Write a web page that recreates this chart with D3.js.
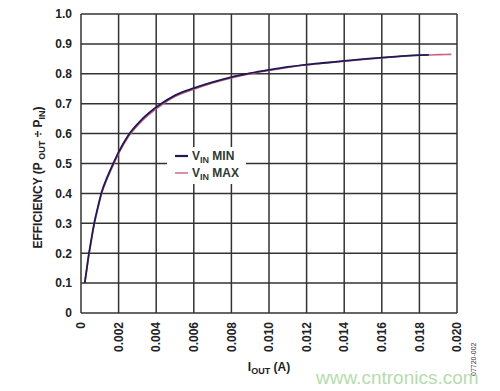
<!DOCTYPE html>
<html>
<head>
<meta charset="utf-8">
<script src="https://cdn.jsdelivr.net/npm/d3@7"></script>
<style>
  body { margin: 0; background: #fff; }
  text { font-family: "Liberation Sans", Arial, sans-serif; }
</style>
</head>
<body>
<div id="chart"></div>
<script>
// output current (A) and efficiency
var ioutMin = [0.0002, 0.0003, 0.0004, 0.0005, 0.0007, 0.0009, 0.0011, 0.0014, 0.0017, 0.002,
               0.0025, 0.0032, 0.0042, 0.005, 0.006, 0.007, 0.008, 0.009, 0.010, 0.011,
               0.012, 0.013, 0.014, 0.015, 0.016, 0.017, 0.0185];
var effMin  = [0.10, 0.145, 0.19, 0.228, 0.30, 0.355, 0.405, 0.455, 0.498, 0.538,
               0.593, 0.645, 0.697, 0.728, 0.752, 0.772, 0.789, 0.802, 0.813, 0.823,
               0.831, 0.837, 0.843, 0.849, 0.854, 0.859, 0.863];
var ioutMax = [0.0002, 0.0003, 0.0004, 0.0005, 0.0007, 0.0009, 0.0011, 0.0014, 0.0017, 0.002,
               0.0025, 0.0032, 0.0042, 0.005, 0.006, 0.007, 0.008, 0.009, 0.010, 0.011,
               0.012, 0.013, 0.014, 0.015, 0.016, 0.017, 0.018, 0.019, 0.0197];
var effMax  = [0.10, 0.143, 0.187, 0.224, 0.295, 0.35, 0.40, 0.45, 0.493, 0.533,
               0.588, 0.64, 0.692, 0.724, 0.748, 0.769, 0.786, 0.8, 0.811, 0.821,
               0.83, 0.836, 0.842, 0.848, 0.853, 0.858, 0.862, 0.864, 0.865];

var xTicks = [0, 0.002, 0.004, 0.006, 0.008, 0.010, 0.012, 0.014, 0.016, 0.018, 0.020];
var xTickLabels = ["0", "0.002", "0.004", "0.006", "0.008", "0.010", "0.012", "0.014", "0.016", "0.018", "0.020"];
var yTicks = [0, 0.1, 0.2, 0.3, 0.4, 0.5, 0.6, 0.7, 0.8, 0.9, 1.0];
var yTickLabels = ["0", "0.1", "0.2", "0.3", "0.4", "0.5", "0.6", "0.7", "0.8", "0.9", "1.0"];

var W = 500, H = 391,
    margin = {top: 14, right: 43, bottom: 78, left: 81},
    width = W - margin.left - margin.right,
    height = H - margin.top - margin.bottom;

var svg = d3.select("#chart").append("svg")
    .attr("width", W)
    .attr("height", H);

var g = svg.append("g")
    .attr("transform", "translate(" + margin.left + "," + margin.top + ")");

var x = d3.scaleLinear().domain([0, 0.020]).range([0, width]);
var y = d3.scaleLinear().domain([0, 1.0]).range([height, 0]);

var gridColor = "#333";

// grid
g.append("g")
    .selectAll("line")
    .data(xTicks)
  .enter().append("line")
    .attr("x1", function(d) { return x(d); })
    .attr("x2", function(d) { return x(d); })
    .attr("y1", 0)
    .attr("y2", height)
    .style("stroke", gridColor)
    .style("stroke-width", 1.5);

g.append("g")
    .selectAll("line")
    .data(yTicks)
  .enter().append("line")
    .attr("x1", 0)
    .attr("x2", width)
    .attr("y1", function(d) { return y(d); })
    .attr("y2", function(d) { return y(d); })
    .style("stroke", gridColor)
    .style("stroke-width", 1.5);

// y axis labels
var yAxis = d3.axisLeft(y)
    .tickValues(yTicks)
    .tickSize(0)
    .tickPadding(9)
    .tickFormat(function(d, i) { return yTickLabels[i]; });

var ya = g.append("g").call(yAxis);
ya.select(".domain").remove();
ya.selectAll("text")
    .style("font-size", "12px")
    .style("font-weight", "bold")
    .style("fill", "#222");

// x axis labels (rotated)
g.append("g")
    .selectAll("text")
    .data(xTicks)
  .enter().append("text")
    .attr("transform", function(d) { return "translate(" + x(d) + "," + (height + 9) + ") rotate(-90)"; })
    .attr("dy", "0.35em")
    .style("text-anchor", "end")
    .style("font-size", "12px")
    .style("font-weight", "bold")
    .style("fill", "#222")
    .text(function(d, i) { return xTickLabels[i]; });

// curves
var line = d3.line()
    .x(function(d) { return x(d[0]); })
    .y(function(d) { return y(d[1]); })
    .curve(d3.curveMonotoneX);

g.append("path")
    .datum(ioutMax.map(function(v, i) { return [v, effMax[i]]; }))
    .attr("d", line)
    .style("fill", "none")
    .style("stroke", "#c8607e")
    .style("stroke-width", 1.6);

g.append("path")
    .datum(ioutMin.map(function(v, i) { return [v, effMin[i]]; }))
    .attr("d", line)
    .style("fill", "none")
    .style("stroke", "#1d1a55")
    .style("stroke-width", 1.8);

// legend
var leg = svg.append("g");
leg.append("rect")
    .attr("x", 167).attr("y", 147)
    .attr("width", 79).attr("height", 37)
    .style("fill", "#fff");

var legItems = [{name: "MIN", color: "#1d1a55", w: 2.2}, {name: "MAX", color: "#c8607e", w: 1.4}];
legItems.forEach(function(it, i) {
  var yy = 156 + i * 17;
  leg.append("line")
      .attr("x1", 175).attr("x2", 188)
      .attr("y1", yy).attr("y2", yy)
      .style("stroke", it.color)
      .style("stroke-width", it.w);
  var t = leg.append("text")
      .attr("x", 192).attr("y", yy + 4)
      .style("font-size", "12px")
      .style("font-weight", "bold")
      .style("fill", "#2e3a30");
  t.append("tspan").text("V");
  t.append("tspan").attr("dy", 3).style("font-size", "9px").text("IN");
  t.append("tspan").attr("dy", -3).text(" " + it.name);
});

// y title
var yt = svg.append("text")
    .attr("transform", "translate(42," + (margin.top + height / 2 + 14) + ") rotate(-90)")
    .style("text-anchor", "middle")
    .style("font-size", "12px")
    .style("font-weight", "bold")
    .style("fill", "#222");
yt.append("tspan").text("EFFICIENCY (P");
yt.append("tspan").attr("dy", 3).style("font-size", "9px").text(" OUT");
yt.append("tspan").attr("dy", -3).text(" \u00F7 P");
yt.append("tspan").attr("dy", 3).style("font-size", "9px").text("IN");
yt.append("tspan").attr("dy", -3).text(")");

// x title
var xt = svg.append("text")
    .attr("x", 269).attr("y", 371)
    .style("text-anchor", "middle")
    .style("font-size", "12px")
    .style("font-weight", "bold")
    .style("fill", "#222");
xt.append("tspan").text("I");
xt.append("tspan").attr("dy", 3).style("font-size", "9px").text("OUT");
xt.append("tspan").attr("dy", -3).text(" (A)");

// figure code
svg.append("text")
    .attr("transform", "translate(476,376) rotate(-90)")
    .style("font-size", "7px")
    .style("fill", "#333")
    .text("07720-002");

// watermark
svg.append("text")
    .attr("x", 316).attr("y", 384)
    .style("font-size", "19px")
    .style("fill", "#a9d6a0")
    .style("opacity", 0.85)
    .text("www.cntronics.com");
</script>
</body>
</html>
